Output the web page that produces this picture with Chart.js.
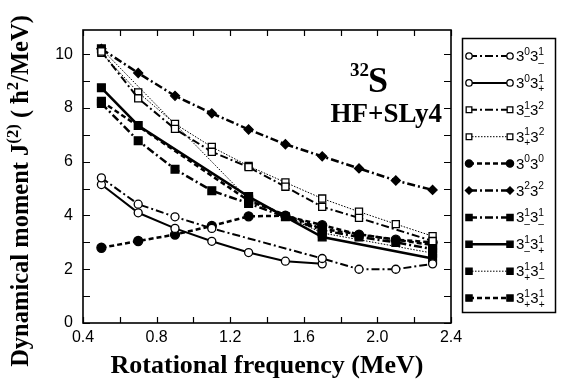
<!DOCTYPE html>
<html>
<head>
<meta charset="utf-8">
<script src="https://cdn.jsdelivr.net/npm/chart.js@4/dist/chart.umd.min.js"></script>
<style>
  html, body { margin: 0; padding: 0; background: #fff; }
</style>
</head>
<body>
<canvas id="chart" width="563" height="380"></canvas>
<script>
// rotational frequency (MeV)
var freq = [0.5, 0.7, 0.9, 1.1, 1.3, 1.5, 1.7, 1.9, 2.1, 2.3];

// dynamical moment J(2) per configuration, null = no point
var j_30_31m  = [5.4, 4.42, 3.95, 3.52, null, null, 2.4, 2.0, 2.0, 2.2];
var j_30_31p  = [5.15, 4.1, 3.52, 3.04, 2.62, 2.3, 2.2, null, null, null];
var j_31m_32  = [10.1, 8.36, 7.22, 6.37, 5.8, 5.07, 4.32, 3.91, null, 3.05];
var j_31p_32  = [10.05, 8.58, 7.41, 6.55, 5.84, 5.23, 4.63, 4.14, 3.68, 3.23];
var j_30_30   = [2.8, 3.05, 3.29, 3.61, 3.97, 3.99, 3.64, 3.29, 3.1, 3.0];
var j_32_32   = [10.2, 9.3, 8.45, 7.8, 7.2, 6.65, 6.2, 5.75, 5.3, 4.95];
var j_31m_31m = [8.17, 6.78, 5.72, 4.92, 4.45, 3.95, 3.45, 3.2, 3.0, 2.75];
var j_31m_31p = [8.75, 7.35, null, null, 4.7, null, 3.2, null, null, 2.4];
var j_31p_31m = [10.2, null, null, null, 4.6, null, 3.35, null, null, 2.6];
var j_31p_31p = [8.25, null, null, null, 4.55, null, 3.5, null, null, 2.9];

// legend labels: digit runs with super/subscripts
var names = [
  [{t:'3'},{sup:'0'},{t:'3'},{sup:'1',sub:'\u2013'}],
  [{t:'3'},{sup:'0'},{t:'3'},{sup:'1',sub:'+'}],
  [{t:'3'},{sup:'1',sub:'\u2013'},{t:'3'},{sup:'2'}],
  [{t:'3'},{sup:'1',sub:'+'},{t:'3'},{sup:'2'}],
  [{t:'3'},{sup:'0'},{t:'3'},{sup:'0'}],
  [{t:'3'},{sup:'2'},{t:'3'},{sup:'2'}],
  [{t:'3'},{sup:'1',sub:'\u2013'},{t:'3'},{sup:'1',sub:'\u2013'}],
  [{t:'3'},{sup:'1',sub:'\u2013'},{t:'3'},{sup:'1',sub:'+'}],
  [{t:'3'},{sup:'1',sub:'+'},{t:'3'},{sup:'1',sub:'\u2013'}],
  [{t:'3'},{sup:'1',sub:'+'},{t:'3'},{sup:'1',sub:'+'}]
];

var xTitle = [{t:'Rotational frequency (MeV)'}];
var yTitle = [{t:'Dynamical moment J'},{sup:'(2)'},{t:' ( \u0127'},{sup:'2'},{t:'/MeV)'}];

var DASHDOT = [8, 3, 2, 3];
var DASHED = [5, 3];
var DOTTED = [1.5, 1.5];

function mk(values, shape, filled, dash, width, radius) {
  var pts = [];
  for (var i = 0; i < freq.length; i++) pts.push({x: freq[i], y: values[i]});
  return {
    data: pts,
    borderColor: '#000',
    borderWidth: width,
    borderDash: dash,
    pointStyle: shape,
    pointRadius: radius,
    pointBorderWidth: 1.3,
    pointBorderColor: '#000',
    pointBackgroundColor: filled ? '#000' : '#fff',
    spanGaps: true,
    tension: 0,
    fill: false
  };
}

var datasets = [
  mk(j_30_31m, 'circle', false, DASHDOT, 2, 4),
  mk(j_30_31p, 'circle', false, [], 2, 4),
  mk(j_31m_32, 'rect', false, DASHDOT, 2, 5),
  mk(j_31p_32, 'rect', false, DOTTED, 1, 5),
  mk(j_30_30, 'circle', true, DASHED, 2.5, 4.5),
  mk(j_32_32, 'rectRot', true, DASHDOT, 2.5, 4.5),
  mk(j_31m_31m, 'rect', true, DASHDOT, 2.5, 5.5),
  mk(j_31m_31p, 'rect', true, [], 2.5, 5.5),
  mk(j_31p_31m, 'rect', true, DOTTED, 1, 5.5),
  mk(j_31p_31p, 'rect', true, DASHED, 2.5, 5.5)
];

function fontFn(size, family, weight) {
  return function (k) { return weight + ' ' + (size * k).toFixed(1) + 'px ' + family; };
}

function runsWidth(ctx, runs, f) {
  var w = 0;
  runs.forEach(function (r) {
    if (r.t) { ctx.font = f(1); w += ctx.measureText(r.t).width; }
    else {
      ctx.font = f(0.68);
      w += Math.max(r.sup ? ctx.measureText(r.sup).width : 0, r.sub ? ctx.measureText(r.sub).width : 0);
    }
  });
  return w;
}

function drawRuns(ctx, runs, x, y, size, f) {
  ctx.textBaseline = 'alphabetic';
  ctx.textAlign = 'left';
  runs.forEach(function (r) {
    if (r.t) {
      ctx.font = f(1);
      ctx.fillText(r.t, x, y);
      x += ctx.measureText(r.t).width;
    } else {
      ctx.font = f(0.68);
      var w = 0;
      if (r.sup) { ctx.fillText(r.sup, x, y - size * 0.42); w = ctx.measureText(r.sup).width; }
      if (r.sub) { ctx.fillText(r.sub, x, y + size * 0.3); w = Math.max(w, ctx.measureText(r.sub).width); }
      x += w;
    }
  });
}

var decor = {
  id: 'decor',
  afterDraw: function (chart) {
    var ctx = chart.ctx, a = chart.chartArea;
    var xs = chart.scales.x, ys = chart.scales.y;
    ctx.save();
    ctx.strokeStyle = '#000';
    ctx.fillStyle = '#000';
    ctx.setLineDash([]);

    // frame
    ctx.lineWidth = 1.6;
    ctx.strokeRect(a.left, a.top, a.right - a.left, a.bottom - a.top);

    // inward ticks
    ctx.lineWidth = 1.2;
    ctx.beginPath();
    for (var v = 0.4; v <= 2.401; v += 0.2) {
      var px = Math.round(xs.getPixelForValue(v)) + 0.5;
      ctx.moveTo(px, a.bottom); ctx.lineTo(px, a.bottom - 6);
      ctx.moveTo(px, a.top); ctx.lineTo(px, a.top + 6);
    }
    for (var u = 0; u <= 10; u++) {
      var py = Math.round(ys.getPixelForValue(u)) + 0.5;
      ctx.moveTo(a.left, py); ctx.lineTo(a.left + 7, py);
      ctx.moveTo(a.right, py); ctx.lineTo(a.right - 7, py);
    }
    ctx.stroke();

    // axis titles
    var fx = fontFn(26, '"Liberation Serif", serif', 'bold');
    var w = runsWidth(ctx, xTitle, fx);
    drawRuns(ctx, xTitle, (a.left + a.right) / 2 - w / 2, 373, 26, fx);

    var fy = fontFn(24.5, '"Liberation Serif", serif', 'bold');
    w = runsWidth(ctx, yTitle, fy);
    ctx.save();
    ctx.translate(28, 191);
    ctx.rotate(-Math.PI / 2);
    drawRuns(ctx, yTitle, -w / 2, 0, 24.5, fy);
    ctx.restore();

    // nucleus / interaction label
    ctx.textAlign = 'left';
    ctx.textBaseline = 'alphabetic';
    ctx.font = 'bold 19px "Liberation Serif", serif';
    ctx.fillText('32', 350, 76);
    ctx.font = 'bold 36px "Liberation Serif", serif';
    ctx.fillText('S', 368, 92);
    ctx.font = 'bold 27px "Liberation Serif", serif';
    ctx.textAlign = 'right';
    ctx.fillText('HF+SLy4', 442, 122);

    // legend box
    ctx.lineWidth = 1.5;
    ctx.strokeRect(462.5, 38.5, 93, 274);
    var fl = fontFn(15, '"Liberation Sans", Arial, sans-serif', 'normal');
    chart.data.datasets.forEach(function (ds, i) {
      var y = 56 + i * 26.9;
      ctx.save();
      ctx.lineWidth = ds.borderWidth;
      ctx.setLineDash(ds.borderDash);
      ctx.beginPath();
      ctx.moveTo(469, y); ctx.lineTo(510, y);
      ctx.stroke();
      ctx.setLineDash([]);
      ctx.lineWidth = ds.pointBorderWidth;
      ctx.fillStyle = ds.pointBackgroundColor;
      ctx.strokeStyle = ds.pointBorderColor;
      var opt = {pointStyle: ds.pointStyle, radius: ds.pointRadius * 0.8, borderWidth: ds.pointBorderWidth, rotation: 0};
      Chart.helpers.drawPoint(ctx, opt, 469, y);
      Chart.helpers.drawPoint(ctx, opt, 510, y);
      ctx.restore();
      ctx.fillStyle = '#000';
      drawRuns(ctx, names[i], 516, y + 5, 15, fl);
    });
    ctx.restore();
  }
};

new Chart(document.getElementById('chart'), {
  type: 'line',
  data: { datasets: datasets },
  options: {
    responsive: false,
    animation: false,
    layout: { padding: { top: 30, right: 112, left: 0, bottom: 0 } },
    plugins: { legend: { display: false }, tooltip: { enabled: false } },
    scales: {
      x: {
        type: 'linear', min: 0.4, max: 2.4,
        grid: { display: false, drawTicks: false },
        border: { display: false },
        afterFit: function (s) { s.height = 57; },
        ticks: {
          stepSize: 0.4, autoSkip: false, maxRotation: 0, padding: 5,
          color: '#000',
          font: { family: '"Liberation Sans", Arial, sans-serif', size: 16 },
          callback: function (v) { return v.toFixed(1); }
        }
      },
      y: {
        min: 0, max: 10.9,
        grid: { display: false, drawTicks: false },
        border: { display: false },
        afterFit: function (s) { s.width = 83; },
        ticks: {
          stepSize: 1, autoSkip: false, includeBounds: false, padding: 10,
          color: '#000',
          font: { family: '"Liberation Sans", Arial, sans-serif', size: 16 },
          callback: function (v) { return (Math.round(v) % 2 === 0) ? String(Math.round(v)) : ''; }
        }
      }
    }
  },
  plugins: [decor]
});
</script>
</body>
</html>
